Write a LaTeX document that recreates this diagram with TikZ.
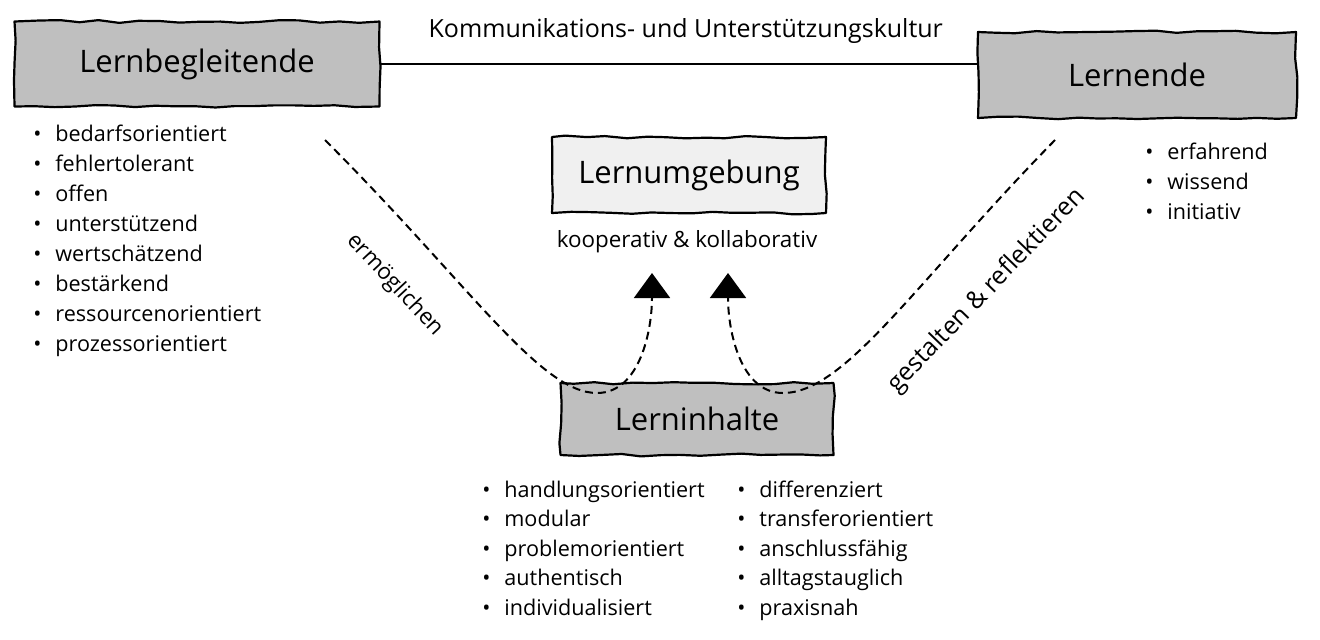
\documentclass[tikz,border=0pt]{standalone}
\usepackage{fontspec}
\setmainfont{Open Sans}
\usetikzlibrary{arrows.meta,decorations.pathmorphing,positioning}

\tikzset{
  rough/.style={decorate,decoration={random steps,segment length=10pt,amplitude=0.7pt}},
  boxdark/.style={rough,draw=black,line width=1.1pt,fill=black!25,font=\fontsize{15.5}{17}\selectfont},
  boxlight/.style={rough,draw=black,line width=1.1pt,fill=black!6,font=\fontsize{15.5}{17}\selectfont},
  item/.style={anchor=base west,inner sep=0pt,font=\fontsize{10.8}{12}\selectfont},
  lbl/.style={inner sep=0pt,font=\fontsize{11.2}{13}\selectfont},
  biglbl/.style={inner sep=0pt,font=\fontsize{12.5}{14}\selectfont},
  flow/.style={dashed,dash pattern=on 4pt off 2.5pt,line width=1pt},
  tip/.style={-{Triangle[width=18pt,length=12.5pt]}}
}
\newcommand\bul[1]{\makebox[11pt][l]{\textbullet}#1}

\begin{document}
\begin{tikzpicture}[x=0.5pt,y=-0.5pt,line cap=butt,line join=round]
\pgfmathsetseed{7}
\useasboundingbox (0,0) rectangle (1320,639);

% die vier Kaesten
\node[boxdark,minimum width=182.5pt,minimum height=42.5pt] (lbegl) at (197,64) {Lernbegleitende};
\node[boxdark,minimum width=159pt,minimum height=43pt] (lernende) at (1137,75) {Lernende};
\node[boxlight,minimum width=137pt,minimum height=38pt] (lumg) at (689,175) {Lernumgebung};
\node[boxdark,minimum width=136.5pt,minimum height=36pt] (linh) at (697,419) {Lerninhalte};
\node[lbl] (koop) at (687,242) {kooperativ \& kollaborativ};

% Verbindung oben
\draw[line width=1pt] (lbegl.east) -- (lbegl.east -| lernende.west)
  node[biglbl,midway,above=10pt,xshift=3.5pt] (kultur) {Kommunikations- und Unterstützungskultur};

% Listen
\foreach \t [count=\i] in {bedarfsorientiert,fehlertolerant,offen,unterstützend,wertschätzend,bestärkend,ressourcenorientiert,prozessorientiert}
  \node[item] (lb\i) at (33,{141+30*(\i-1)}) {\bul{\t}};
\foreach \t [count=\i] in {erfahrend,wissend,initiativ}
  \node[item] (le\i) at (1145,{159+30*(\i-1)}) {\bul{\t}};
\foreach \t [count=\i] in {handlungsorientiert,modular,problemorientiert,authentisch,individualisiert}
  \node[item] (la\i) at (482,{497+29.5*(\i-1)}) {\bul{\t}};
\foreach \t [count=\i] in {differenziert,transferorientiert,anschlussfähig,alltagstauglich,praxisnah}
  \node[item] (lc\i) at (737,{497+29.5*(\i-1)}) {\bul{\t}};

% gestrichelte Wege
\coordinate (erm0) at (325,140);
\coordinate (erm1) at (597,393);
\coordinate (erm2) at (652,273);
\coordinate (ges0) at (1055,140);
\coordinate (ges1) at (783,393);
\coordinate (ges2) at (728,273);
\draw[flow,tip] (erm0) .. controls (470,285) and (540,393) .. (erm1)
  .. controls (640,393) and (652,330) .. (erm2);
\draw[flow,tip] (ges0) .. controls (915,283) and (845,393) .. (ges1)
  .. controls (740,393) and (728,330) .. (ges2);
\node[lbl,rotate=-47] (ermtext) at (395,285) {ermöglichen};
\node[biglbl,rotate=46] (gestext) at (987,291) {gestalten \& reflektieren};
\end{tikzpicture}
\end{document}
